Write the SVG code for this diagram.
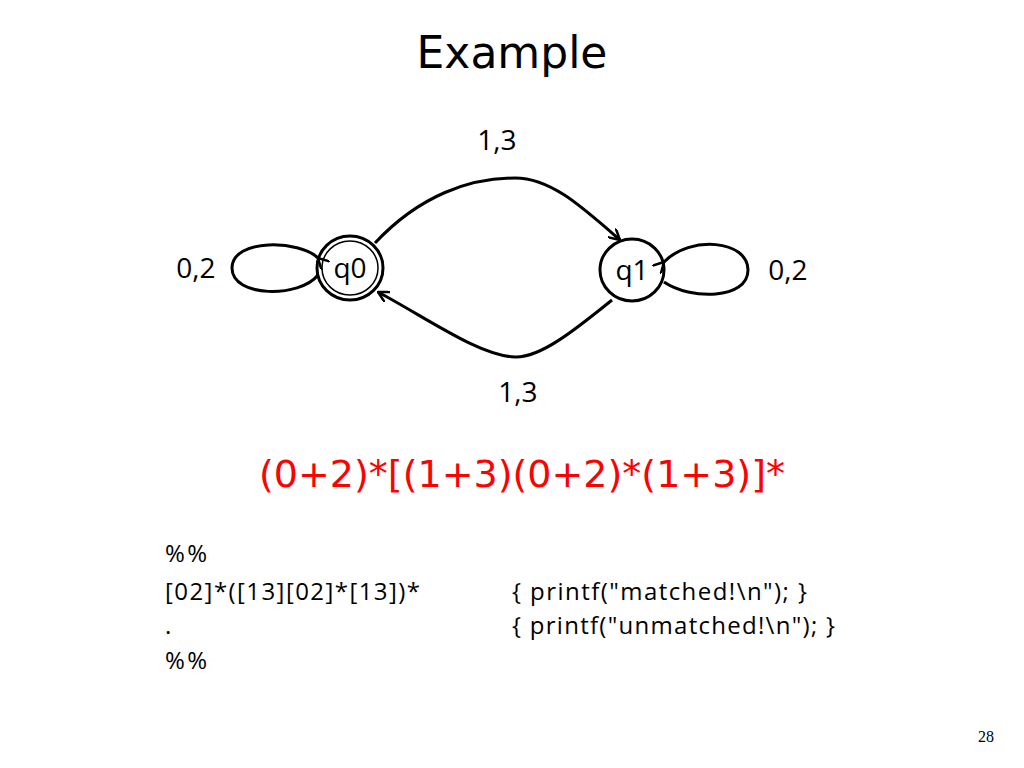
<svg xmlns="http://www.w3.org/2000/svg" width="1024" height="768" viewBox="0 0 1024 768">
<style>
.t{font-family:"Open Sans","Liberation Sans",sans-serif;fill:#000}
.e{fill:none;stroke:#000;stroke-width:3}
.c{font-family:"Open Sans","Liberation Sans",sans-serif;font-size:24px;fill:#000}
</style>
<defs><marker id="a" viewBox="0 0 12 12" refX="11" refY="6" markerWidth="12" markerHeight="12" markerUnits="userSpaceOnUse" orient="auto"><path d="M0,0 L11,6 L0,12" fill="none" stroke="#000" stroke-width="2.5"/></marker></defs>
<rect width="1024" height="768" fill="#fff"/>
<text x="512" y="68" text-anchor="middle" font-family="DejaVu Sans,sans-serif" font-size="44" fill="#000">Example</text>
<g id="connectors">
<path class="e" d="M375,243 C420,195 470,178 515,178 C550,178 580,205 620,240" marker-end="url(#a)"/>
<path class="e" d="M612,300 C575,330 540,358 515,357 C480,356 430,320 378,292" marker-end="url(#a)"/>
<path class="e" d="M318,258 C300,240 232,238 232,268 C232,298 300,298 318,275" marker-start="url(#a)"/>
<path class="e" d="M664,262 C690,235 748,240 748,270 C748,300 690,300 664,282" marker-start="url(#a)"/>
</g>
<text class="t" x="497" y="150" font-size="28" text-anchor="middle">1,3</text>
<text class="t" x="518" y="402" font-size="28" text-anchor="middle">1,3</text>
<text class="t" x="196" y="278" font-size="28" text-anchor="middle">0,2</text>
<text class="t" x="788" y="280" font-size="28" text-anchor="middle">0,2</text>
<g id="q0"><ellipse class="e" cx="350" cy="268" rx="33" ry="32"/><ellipse cx="350" cy="268" rx="28" ry="27" fill="none" stroke="#000" stroke-width="1.5"/><text class="t" x="350" y="278" font-size="28" text-anchor="middle">q0</text></g>
<g id="q1"><ellipse class="e" cx="632" cy="270" rx="32" ry="31"/><text class="t" x="632" y="280" font-size="28" text-anchor="middle">q1</text></g>
<text x="522" y="487" text-anchor="middle" font-family="DejaVu Sans,sans-serif" font-size="38" fill="#ff0000">(0+2)*[(1+3)(0+2)*(1+3)]*</text>
<g id="code">
<text class="c" x="165" y="562" textLength="42">%%</text>
<text class="c" x="165" y="600" textLength="255">[02]*([13][02]*[13])*</text>
<text class="c" x="165" y="634">.</text>
<text class="c" x="165" y="669" textLength="42">%%</text>
<text class="c" x="512" y="600" textLength="295">{ printf("matched!\n"); }</text>
<text class="c" x="512" y="634" textLength="323">{ printf("unmatched!\n"); }</text>
</g>
<text x="986" y="742" text-anchor="middle" font-family="Liberation Serif,serif" font-size="16" fill="#000">28</text>
</svg>
